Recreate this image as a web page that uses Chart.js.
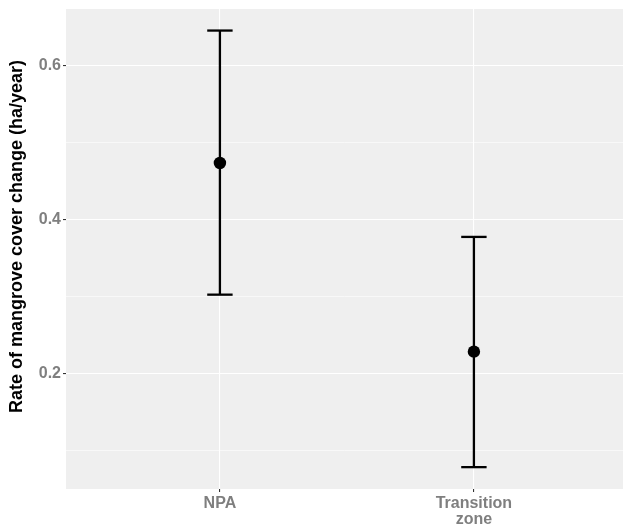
<!DOCTYPE html>
<html><head><meta charset="utf-8">
<script src="https://cdn.jsdelivr.net/npm/chart.js@4/dist/chart.umd.min.js"></script>
<style>html,body{margin:0;padding:0;background:#fff}canvas{display:block}</style>
</head><body>
<canvas id="c" width="623" height="526"></canvas>
<script>
const categories = ['NPA', 'Transition zone'];
const means = [0.474, 0.229];
const lowers = [0.303, 0.079];
const uppers = [0.646, 0.378];
const yTicks = [0.1, 0.2, 0.3, 0.4, 0.5, 0.6];
const yMajor = [0.2, 0.4, 0.6];
const yTitle = 'Rate of mangrove cover change (ha/year)';

const capHalf = 0.05;
const FONT = '"Liberation Sans", Arial, Helvetica, sans-serif';
const isMajor = v => yMajor.some(m => Math.abs(m - v) < 1e-6);

const datasets = [{
  type: 'scatter',
  data: categories.map((c, i) => ({x: i + 1, y: means[i]})),
  pointRadius: 6.2, pointBackgroundColor: '#000', pointBorderColor: '#000', pointBorderWidth: 0
}];
categories.forEach((c, i) => {
  const x = i + 1;
  const common = {type: 'line', showLine: true, pointRadius: 0, borderColor: '#000', borderWidth: 2.3, fill: false, tension: 0};
  datasets.push(Object.assign({data: [{x: x, y: lowers[i]}, {x: x, y: uppers[i]}]}, common));
  datasets.push(Object.assign({data: [{x: x - capHalf, y: uppers[i]}, {x: x + capHalf, y: uppers[i]}]}, common));
  datasets.push(Object.assign({data: [{x: x - capHalf, y: lowers[i]}, {x: x + capHalf, y: lowers[i]}]}, common));
});

const panelBg = {
  id: 'panelBg',
  beforeDraw(chart) {
    const {ctx, chartArea: a} = chart;
    ctx.save();
    ctx.fillStyle = '#EFEFEF';
    ctx.fillRect(a.left, a.top, a.right - a.left, a.bottom - a.top);
    ctx.restore();
  }
};

const yTitlePlugin = {
  id: 'yTitlePlugin',
  afterDraw(chart) {
    const ctx = chart.ctx;
    ctx.save();
    ctx.translate(17.5, 236.5);
    ctx.rotate(-Math.PI / 2);
    ctx.font = 'bold 18px ' + FONT;
    ctx.fillStyle = '#000';
    ctx.textAlign = 'center';
    ctx.textBaseline = 'middle';
    ctx.fillText(yTitle, 0, 0);
    ctx.restore();
  }
};

new Chart(document.getElementById('c'), {
  type: 'scatter',
  data: {datasets},
  plugins: [panelBg, yTitlePlugin],
  options: {
    responsive: false, animation: false,
    layout: {autoPadding: false, padding: {top: 9, right: 0, left: 0, bottom: 0}},
    plugins: {legend: {display: false}, tooltip: {enabled: false}},
    scales: {
      x: {
        type: 'linear', min: 0.394, max: 2.587,
        afterBuildTicks: s => { s.ticks = categories.map((c, i) => ({value: i + 1})); },
        afterFit: s => { s.height = 37; s.paddingLeft = 0; s.paddingRight = 0; },
        border: {display: false},
        grid: {color: '#FFFFFF', lineWidth: 1.1, tickColor: '#333333', tickLength: 3, drawTicks: true},
        ticks: {
          color: '#7F7F7F', font: {family: FONT, size: 16, weight: 'bold', lineHeight: 1.0},
          padding: 4, maxRotation: 0, autoSkip: false,
          callback: (v) => { const c = categories[Math.round(v) - 1]; return c ? c.split(' ') : ''; }
        }
      },
      y: {
        type: 'linear', min: 0.0506, max: 0.674,
        afterBuildTicks: s => { s.ticks = yTicks.map(v => ({value: v})); },
        afterFit: s => { s.width = 66; s.paddingTop = 0; s.paddingBottom = 0; },
        border: {display: false},
        grid: {
          color: '#FFFFFF',
          lineWidth: c => (c.tick && isMajor(c.tick.value)) ? 1.1 : 0.55,
          tickColor: c => (c.tick && isMajor(c.tick.value)) ? '#333333' : 'rgba(0,0,0,0)',
          tickLength: 3, drawTicks: true
        },
        ticks: {
          color: '#7F7F7F', font: {family: FONT, size: 16, weight: 'bold'}, padding: 2, autoSkip: false,
          callback: v => isMajor(v) ? v.toFixed(1) : ''
        },
        title: {display: false}
      }
    }
  }
});
</script>
</body></html>
